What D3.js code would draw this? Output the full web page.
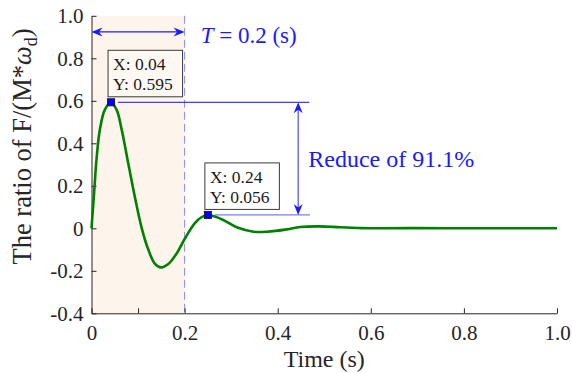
<!DOCTYPE html>
<html>
<head>
<meta charset="utf-8">
<script src="https://cdn.jsdelivr.net/npm/d3@7"></script>
<style>
  body { margin: 0; background: #fff; }
  svg { display: block; }
</style>
</head>
<body>
<svg id="chart" width="572" height="373"></svg>
<script>
// curve
var time = [0.000, 0.006, 0.011, 0.018, 0.029, 0.042, 0.054, 0.065, 0.079, 0.093,
  0.108, 0.122, 0.136, 0.149, 0.165, 0.183, 0.201, 0.222, 0.236, 0.250,
  0.265, 0.283, 0.312, 0.348, 0.377, 0.420, 0.448, 0.490, 0.534, 0.580,
  0.620, 0.700, 0.800, 0.900, 1.000];
var ratio = [0.000, 0.180, 0.330, 0.465, 0.560, 0.592, 0.557, 0.463, 0.305, 0.149,
  0.000, -0.100, -0.166, -0.184, -0.168, -0.118, -0.047, 0.024, 0.052, 0.062,
  0.055, 0.039, 0.005, -0.016, -0.016, -0.005, 0.006, 0.009, 0.005, 0.001,
  0.000, 0.001, 0.000, 0.000, 0.000];

var xTicks = [0, 0.1, 0.2, 0.4, 0.6, 0.8, 1.0];
var yTicks = [-0.4, -0.2, 0, 0.2, 0.4, 0.6, 0.8, 1.0];

var tipX = [0.042, 0.250];
var tipY = [0.593, 0.063];
var tipLabels = [['X: 0.04', 'Y: 0.595'], ['X: 0.24', 'Y: 0.056']];

var period = 0.2;
var arrowLevel = 0.924;
var reduceAt = 0.444;

var serif = '"Liberation Serif", "Times New Roman", Times, serif';
var blue = '#1a1aff';

var svg = d3.select('#chart');
var x = d3.scaleLinear().domain([0, 1]).range([91.5, 557]);
var y = d3.scaleLinear().domain([-0.4, 1]).range([313.3, 15.8]);

// shaded period
svg.append('rect')
  .attr('x', x(0)).attr('y', y(1))
  .attr('width', x(period) - x(0))
  .attr('height', y(-0.4) - y(1))
  .attr('fill', '#fdf5eb');

svg.append('line')
  .attr('x1', x(period)).attr('x2', x(period))
  .attr('y1', y(1)).attr('y2', y(-0.4))
  .attr('stroke', '#8a8aff').attr('stroke-width', 1)
  .attr('stroke-dasharray', '8,4');

// axes
var xAxis = d3.axisBottom(x).tickValues(xTicks)
  .tickSizeInner(-5).tickSizeOuter(0).tickPadding(12)
  .tickFormat(function (d) {
    if (Math.abs(d - 0.1) < 1e-9) return '';
    return d === 0 ? '0' : d.toFixed(1);
  });
var yAxis = d3.axisLeft(y).tickValues(yTicks)
  .tickSizeInner(-5).tickSizeOuter(0).tickPadding(8)
  .tickFormat(function (d) { return d === 0 ? '0' : d.toFixed(1); });

var gx = svg.append('g').attr('transform', 'translate(0,' + y(-0.4) + ')').call(xAxis);
var gy = svg.append('g').attr('transform', 'translate(' + x(0) + ',0)').call(yAxis);
[gx, gy].forEach(function (g) {
  g.attr('font-family', serif);
  g.selectAll('path, line').attr('stroke', '#262626');
  g.selectAll('text').attr('fill', '#262626')
    .attr('font-family', serif).attr('font-size', '21px');
});

// curve
var pts = time.map(function (t, i) { return [t, ratio[i]]; });
var line = d3.line()
  .x(function (d) { return x(d[0]); })
  .y(function (d) { return y(d[1]); })
  .curve(d3.curveCatmullRom.alpha(0.5));

svg.append('path')
  .attr('d', line(pts))
  .attr('fill', 'none')
  .attr('stroke', '#008000')
  .attr('stroke-width', 2.6)
  .attr('stroke-linejoin', 'round');

function arrowHead(px, py, angle) {
  // notched head, tip at (px, py), pointing along angle (deg)
  svg.append('path')
    .attr('d', 'M0,0 L-11,-4.5 L-7.5,0 L-11,4.5 Z')
    .attr('transform', 'translate(' + px + ',' + py + ') rotate(' + angle + ')')
    .attr('fill', blue);
}

// period arrow
svg.append('line')
  .attr('x1', x(0) + 2).attr('x2', x(period) - 2)
  .attr('y1', y(arrowLevel)).attr('y2', y(arrowLevel))
  .attr('stroke', blue).attr('stroke-width', 1.2);
arrowHead(x(0), y(arrowLevel), 180);
arrowHead(x(period), y(arrowLevel), 0);

var tText = svg.append('text')
  .attr('x', 200.7).attr('y', 42.7)
  .attr('font-family', serif).attr('font-size', '23px')
  .attr('fill', blue);
tText.append('tspan').attr('font-style', 'italic').text('T');
tText.append('tspan').text(' = 0.2 (s)');

// reference lines from the two peaks
var lineEnd = [309.3, 310];
tipX.forEach(function (t, i) {
  svg.append('line')
    .attr('x1', x(t) + 7).attr('x2', lineEnd[i])
    .attr('y1', y(tipY[i])).attr('y2', y(tipY[i]))
    .attr('stroke', i === 0 ? '#1010ff' : '#5a5aff').attr('stroke-width', 1);
});

svg.append('line')
  .attr('x1', x(reduceAt)).attr('x2', x(reduceAt))
  .attr('y1', y(tipY[0]) + 3).attr('y2', y(tipY[1]) - 3)
  .attr('stroke', '#4a4aff').attr('stroke-width', 1.2);
arrowHead(x(reduceAt), y(tipY[0]), -90);
arrowHead(x(reduceAt), y(tipY[1]), 90);

svg.append('text')
  .attr('x', 308.3).attr('y', 167.3)
  .attr('font-family', serif).attr('font-size', '24px')
  .attr('fill', blue)
  .text('Reduce of 91.1%');

// data tips
tipX.forEach(function (t, i) {
  var mx = x(t), my = y(tipY[i]);
  var bx = mx - 3, by = my - 52;
  svg.append('rect')
    .attr('x', bx).attr('y', by)
    .attr('width', 74.5).attr('height', 46.5)
    .attr('fill', '#fff').attr('fill-opacity', i === 0 ? 0.35 : 1)
    .attr('stroke', '#3a3a3a').attr('stroke-width', 1);
  tipLabels[i].forEach(function (s, j) {
    svg.append('text')
      .attr('x', bx + 5).attr('y', by + 20 + j * 20)
      .attr('font-family', serif).attr('font-size', '17.5px')
      .attr('fill', '#1a1a1a')
      .text(s);
  });
  svg.append('rect')
    .attr('x', mx - 3.5).attr('y', my - 3.5)
    .attr('width', 7).attr('height', 7)
    .attr('fill', '#0000ff')
    .attr('stroke', '#1a1a40').attr('stroke-width', 1);
});

// axis labels
svg.append('text')
  .attr('x', (x(0) + x(1)) / 2).attr('y', 367)
  .attr('text-anchor', 'middle')
  .attr('font-family', serif).attr('font-size', '24px')
  .attr('fill', '#262626')
  .text('Time (s)');

var yl = svg.append('text')
  .attr('transform', 'translate(31,146.5) rotate(-90)')
  .attr('text-anchor', 'middle')
  .attr('font-family', serif).attr('font-size', '26.5px')
  .attr('fill', '#262626');
yl.append('tspan').text('The ratio of F/(M*');
yl.append('tspan').attr('font-style', 'italic').text('ω');
yl.append('tspan').attr('font-size', '18px').attr('dy', 6).text('d');
yl.append('tspan').attr('dy', -6).text(')');
</script>
</body>
</html>
